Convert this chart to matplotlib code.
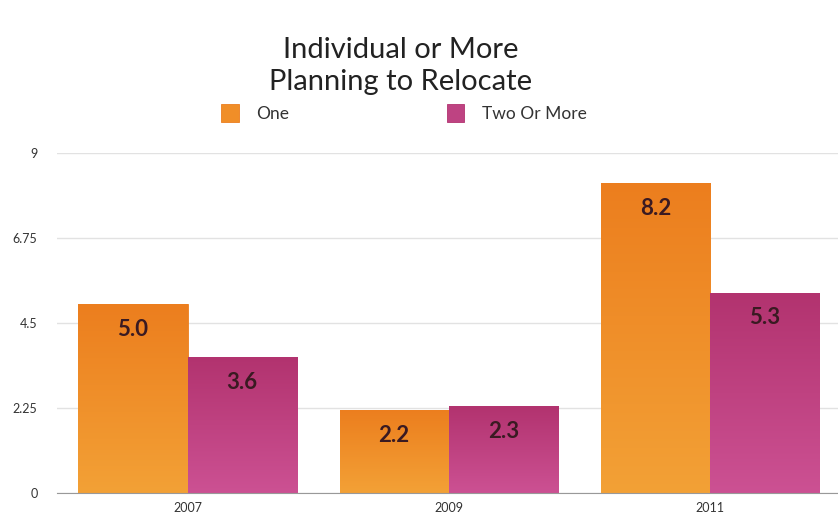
import numpy as np
import matplotlib
matplotlib.use("Agg")
import matplotlib.pyplot as plt
from matplotlib.colors import LinearSegmentedColormap

plt.rcParams['font.family'] = ['Lato', 'DejaVu Sans']

years = ["2007", "2009", "2011"]
series_names = ["One", "Two Or More"]
one_values = [5.0, 2.2, 8.2]
two_values = [3.6, 2.3, 5.3]
y_ticks = [0, 2.25, 4.5, 6.75, 9]
y_tick_labels = ["0", "2.25", "4.5", "6.75", "9"]

colors = ["#F08E28", "#BE4382"]
gradients = [("#F3A136", "#EC7E1E"), ("#CC5193", "#B2336F")]  # (bottom, top)
label_color = "#3a1a22"

fig = plt.figure(figsize=(8.38, 5.23), dpi=100)
ax = fig.add_axes([0.068, 0.057, 0.935, 0.650])
ax.set_xlim(-0.5, 2.5)
ax.set_ylim(0, 9)

x = np.arange(len(years))
width = 0.418
grad = np.linspace(0, 1, 256).reshape(-1, 1)
for i, (vals, col, name, (c0, c1)) in enumerate(zip([one_values, two_values], colors,
                                                     series_names, gradients)):
    offs = (i - 0.5) * width
    bars = ax.bar(x + offs, vals, width, color=col, edgecolor=c1, linewidth=0.6,
                  label=name, zorder=3)
    cmap = LinearSegmentedColormap.from_list(f"g{i}", [c0, c1])
    for b, v in zip(bars, vals):
        x0 = b.get_x()
        im = ax.imshow(grad, cmap=cmap, origin="lower", aspect="auto",
                       extent=(x0, x0 + b.get_width(), 0, v), zorder=3.1,
                       interpolation="bilinear")
        im.set_clip_path(b)
        ax.annotate(f"{v:.1f}", (x0 + b.get_width() / 2, v),
                    xytext=(0, -18), textcoords="offset points",
                    ha="center", va="center", fontsize=16, fontweight="bold",
                    color=label_color, zorder=4)

ax.set_xlim(-0.5, 2.5)
ax.set_ylim(0, 9)
ax.set_yticks(y_ticks)
ax.set_yticklabels(y_tick_labels)
ax.set_xticks(x)
ax.set_xticklabels(years)
ax.tick_params(axis="both", length=0, labelsize=9, colors="#333333")
ax.tick_params(axis="y", pad=14)
ax.tick_params(axis="x", pad=6)
ax.yaxis.grid(True, color="#e2e2e2", linewidth=1.0, zorder=0)
ax.set_axisbelow(True)
for s in ["top", "right", "left"]:
    ax.spines[s].set_visible(False)
ax.spines["bottom"].set_color("#999999")
ax.spines["bottom"].set_zorder(5)

fig.text(0.478, 0.874, "Individual or More\nPlanning to Relocate", ha="center", va="center",
         fontsize=21, color="#222222", linespacing=1.25)

leg = fig.legend(loc="center left", bbox_to_anchor=(0.264, 0.784), ncol=2, frameon=False,
                 fontsize=12.5, handlelength=1.0, handleheight=1.3, columnspacing=9.1,
                 handletextpad=1.0, borderaxespad=0, borderpad=0)
for t in leg.get_texts():
    t.set_color("#333333")

fig.savefig("out.png", dpi=100)
